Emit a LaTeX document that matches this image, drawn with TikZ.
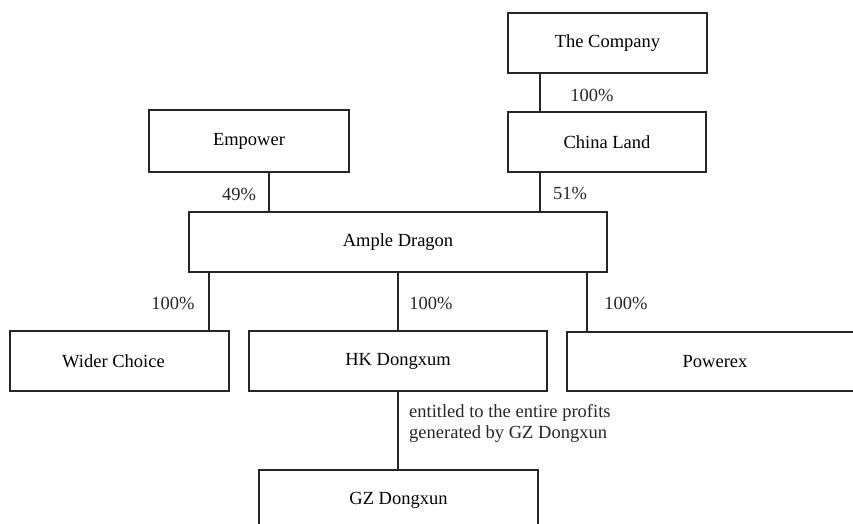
\documentclass[tikz,border=0pt]{standalone}
\usepackage{fontspec}
\setmainfont{Liberation Serif}
\begin{document}
\begin{tikzpicture}[x=1pt,y=-1pt,
  box/.style={draw=black!85,line width=1.1pt,inner sep=0pt,font=\fontsize{18.5}{21}\selectfont},
  lbl/.style={inner sep=0pt,font=\fontsize{18.5}{21}\selectfont,text=black!85},
  conn/.style={draw=black!85,line width=1.1pt}]
\clip (0,0) rectangle (853,524);
\useasboundingbox (0,0) rectangle (853,524);
\node[box,minimum width=199pt,minimum height=60pt] (company) at (607.5,43) {The Company};
\node[box,minimum width=198pt,minimum height=60pt] (china) at (607,142) {China Land};
\node[box,minimum width=200pt,minimum height=62pt] (empower) at (249,141) {Empower};
\node[box,minimum width=418pt,minimum height=60pt] (ample) at (398,242) {Ample Dragon};
\node[box,minimum width=219pt,minimum height=60pt] (wider) at (119.5,361) {Wider Choice\hspace*{12pt}};
\node[box,minimum width=298pt,minimum height=60pt] (hk) at (398,361) {HK Dongxum};
\node[box,minimum width=296pt,minimum height=59pt] (powerex) at (715,361.5) {Powerex};
\node[box,minimum width=279pt,minimum height=60pt] (gz) at (398.5,500) {GZ Dongxun};
\coordinate (xa) at (540,0);
\coordinate (xb) at (269,0);
\coordinate (xc) at (209,0);
\coordinate (xd) at (398,0);
\coordinate (xe) at (587,0);
\draw[conn] (company.south -| xa) -- (china.north -| xa);
\draw[conn] (china.south -| xa) -- (ample.north -| xa);
\draw[conn] (empower.south -| xb) -- (ample.north -| xb);
\draw[conn] (ample.south -| xc) -- (wider.north -| xc);
\draw[conn] (ample.south -| xd) -- (hk.north -| xd);
\draw[conn] (ample.south -| xe) -- (powerex.north -| xe);
\draw[conn] (hk.south -| xd) -- (gz.north -| xd);
\node[lbl] (l1) at (592,95) {100\%};
\node[lbl] (l2) at (570,193) {51\%};
\node[lbl] (l3) at (239,194) {49\%};
\node[lbl] (l4) at (173,303) {100\%};
\node[lbl] (l5) at (431,303) {100\%};
\node[lbl] (l6) at (626,303) {100\%};
\node[lbl,anchor=west,align=left] (l7) at (409,423) {entitled to the entire profits\\generated by GZ Dongxun};
\end{tikzpicture}
\end{document}
